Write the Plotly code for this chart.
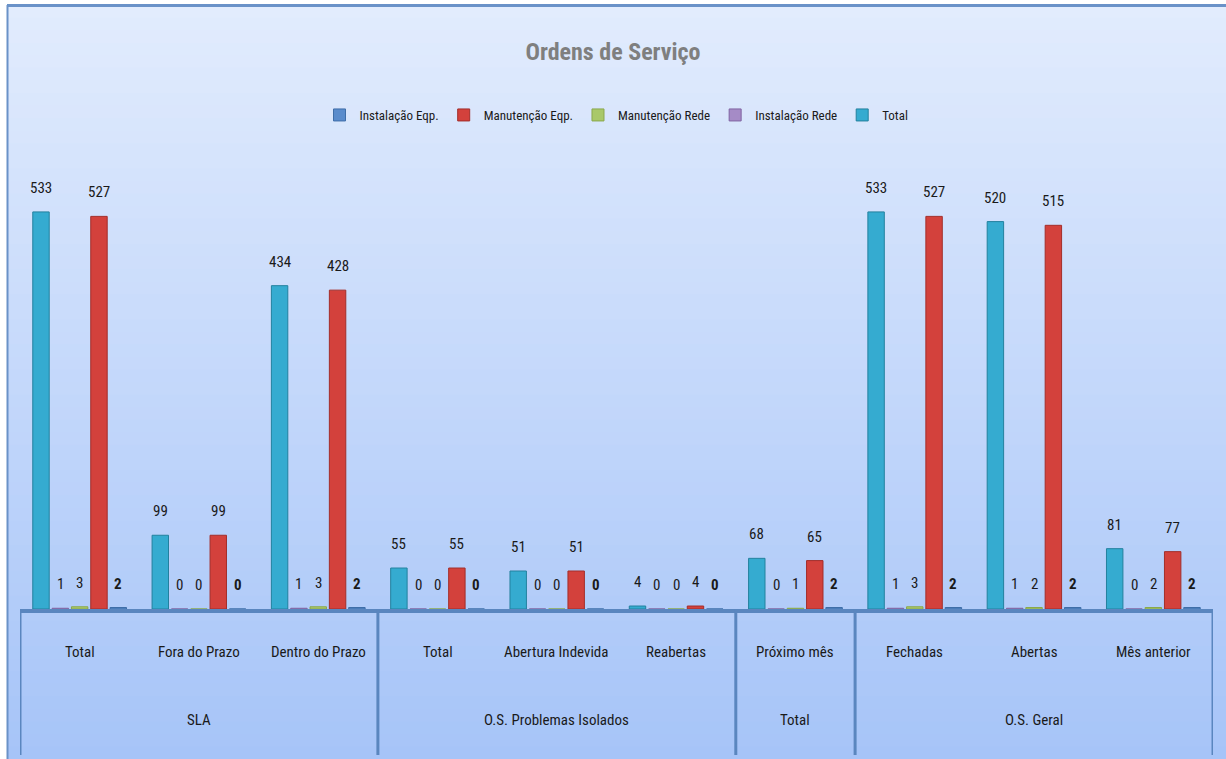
import plotly.graph_objects as go

# ---- data ----
groups = ["SLA", "SLA", "SLA",
          "O.S. Problemas Isolados", "O.S. Problemas Isolados", "O.S. Problemas Isolados",
          "Total",
          "O.S. Geral", "O.S. Geral", "O.S. Geral"]
subcats = ["Total", "Fora do Prazo", "Dentro do Prazo",
           "Total", "Abertura Indevida", "Reabertas",
           "Próximo mês",
           "Fechadas", "Abertas", "Mês anterior"]

total = [533, 99, 434, 55, 51, 4, 68, 533, 520, 81]
instalacao_rede = [1, 0, 1, 0, 0, 0, 0, 1, 1, 0]
manutencao_rede = [3, 0, 3, 0, 0, 0, 1, 3, 2, 2]
manutencao_eqp = [527, 99, 428, 55, 51, 4, 65, 527, 515, 77]
instalacao_eqp = [2, 0, 2, 0, 0, 0, 2, 2, 2, 2]

series = [
    ("Total", total, "#35abd0", "#23819e", False),
    ("Instalação Rede", instalacao_rede, "#a58bc6", "#8064a2", False),
    ("Manutenção Rede", manutencao_rede, "#a9c86a", "#8aa84c", False),
    ("Manutenção Eqp.", manutencao_eqp, "#d3413c", "#a32e2a", False),
    ("Instalação Eqp.", instalacao_eqp, "#5a8ccc", "#3f6ea8", True),
]

FONT = "Liberation Sans Narrow, Roboto Condensed, Arial Narrow, Liberation Sans, sans-serif"
BARGAP = 0.19
BARGROUPGAP = 0.15

keys = [f"{g} | {s}" for g, s in zip(groups, subcats)]

fig = go.Figure()
for name, vals, col, lcol, bold in series:
    fig.add_trace(go.Bar(
        x=keys, y=vals, name=name,
        marker=dict(color=col, line=dict(color=lcol, width=1)),
        cliponaxis=False,
    ))

W, H = 1226, 759
ML, MR, MT, MB = 20, 13, 162, 150
pw, ph = W - ML - MR, H - MT - MB

def px2paper_x(px):
    return (px - ML) / pw

def px2paper_y(py):
    return (H - MB - py) / ph

shapes = []
# background gradient bands
top_c = (226, 236, 253)
bot_c = (166, 196, 248)
nb = 60
y0px, y1px = 5, H
for i in range(nb):
    a = y0px + (y1px - y0px) * i / nb
    b = y0px + (y1px - y0px) * (i + 1) / nb + 1
    t = (i + 0.5) / nb
    c = tuple(int(round(top_c[k] + (bot_c[k] - top_c[k]) * t)) for k in range(3))
    shapes.append(dict(type="rect", xref="paper", yref="paper", layer="below",
                       x0=px2paper_x(7), x1=px2paper_x(W + 2),
                       y0=px2paper_y(b), y1=px2paper_y(a),
                       line=dict(width=0), fillcolor=f"rgb{c}"))
# outer frame lines (top, left)
shapes.append(dict(type="line", xref="paper", yref="paper", x0=px2paper_x(7), x1=px2paper_x(W + 2),
                   y0=px2paper_y(5.5), y1=px2paper_y(5.5), line=dict(color="#6a92c8", width=3)))
shapes.append(dict(type="line", xref="paper", yref="paper", x0=px2paper_x(7.5), x1=px2paper_x(7.5),
                   y0=px2paper_y(5), y1=px2paper_y(H + 2), line=dict(color="#6a92c8", width=2)))

# group dividers (computed from group boundaries)
bounds = [-0.5]
for i in range(1, len(groups)):
    if groups[i] != groups[i - 1]:
        bounds.append(i - 0.5)
bounds.append(len(groups) - 0.5)
for bx in bounds:
    shapes.append(dict(type="line", xref="x", yref="paper", x0=bx, x1=bx,
                       y0=0, y1=px2paper_y(755), line=dict(color="#5a86bf", width=3)))

annotations = []
# value labels, placed above each bar of the grouped layout
n = len(series)
slot = (1 - BARGAP) / n
for j, (name, vals, col, lcol, bold) in enumerate(series):
    off = -(1 - BARGAP) / 2 + slot * (j + 0.5)
    for i, v in enumerate(vals):
        annotations.append(dict(
            x=i + off, y=v, xref="x", yref="y", yanchor="middle", yshift=24,
            text=f"<b>{v}</b>" if bold else f"{v}", showarrow=False,
            font=dict(size=15, color="#1a1a1a", family=FONT)))

for i, s in enumerate(subcats):
    annotations.append(dict(x=i, y=px2paper_y(652), xref="x", yref="paper", yanchor="middle",
                            text=s, showarrow=False,
                            font=dict(size=15, color="#1a1a1a", family=FONT)))
start = 0
for i in range(1, len(groups) + 1):
    if i == len(groups) or groups[i] != groups[start]:
        annotations.append(dict(x=(start + i - 1) / 2, y=px2paper_y(720), xref="x", yref="paper",
                                yanchor="middle", text=groups[start], showarrow=False,
                                font=dict(size=15, color="#1a1a1a", family=FONT)))
        start = i

fig.update_layout(
    width=W, height=H,
    margin=dict(l=ML, r=MR, t=MT, b=MB),
    paper_bgcolor="white",
    plot_bgcolor="rgba(0,0,0,0)",
    barmode="group",
    bargap=BARGAP,
    bargroupgap=BARGROUPGAP,
    title=dict(text="<b>Ordens de Serviço</b>", x=0.5, xanchor="center",
               y=1 - 52 / H, yanchor="middle",
               font=dict(size=24, color="#7f7f7f", family=FONT)),
    legend=dict(orientation="h", x=0.5, xanchor="center", y=px2paper_y(115), yanchor="middle",
                traceorder="reversed", font=dict(size=13, color="#1a1a1a", family=FONT),
                bgcolor="rgba(0,0,0,0)", itemwidth=30, tracegroupgap=0),
    xaxis=dict(type="category", showticklabels=False, ticks="", showgrid=False,
               showline=True, linecolor="#5a86bf", linewidth=4, zeroline=False,
               range=[-0.5, len(keys) - 0.5]),
    yaxis=dict(range=[0, 600], visible=False, showgrid=False, zeroline=False),
    shapes=shapes,
    annotations=annotations,
    showlegend=True,
)

fig.write_html("out.html")
